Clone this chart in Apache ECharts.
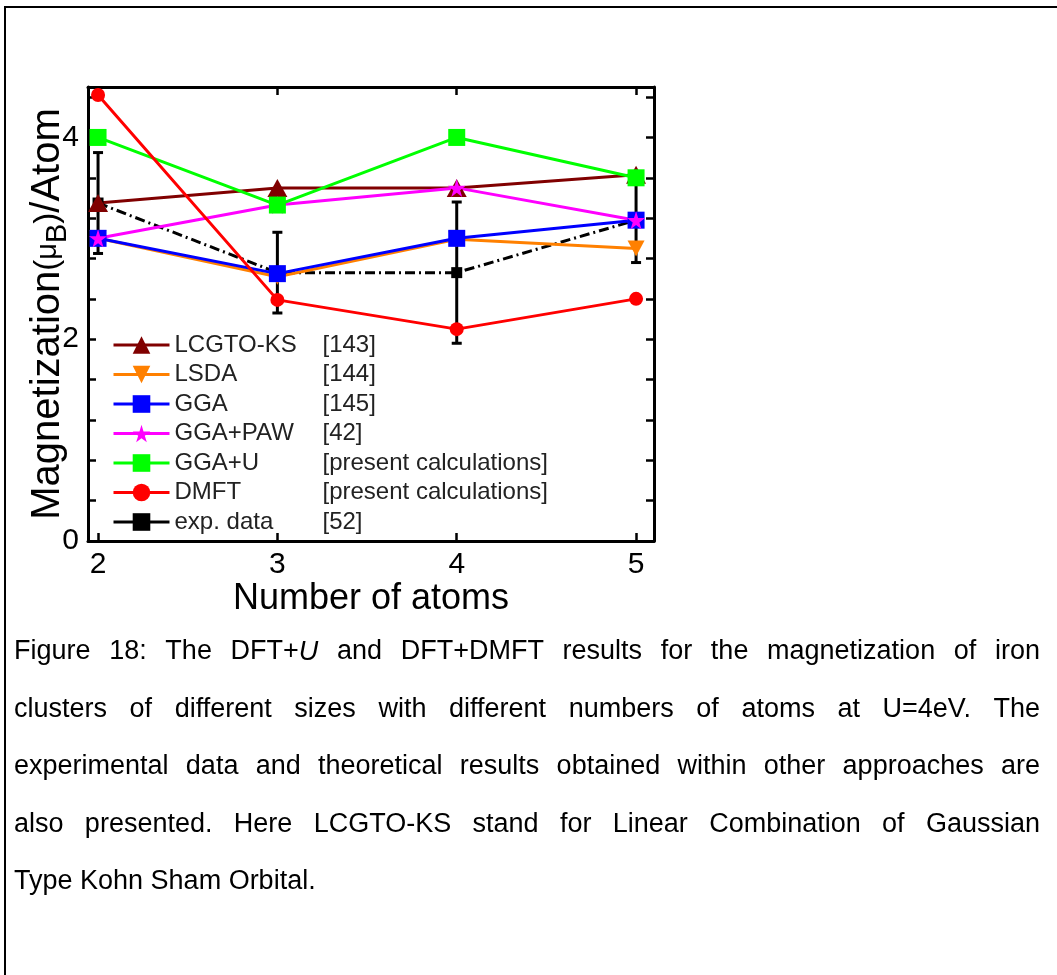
<!DOCTYPE html>
<html>
<head>
<meta charset="utf-8">
<script src="https://cdn.jsdelivr.net/npm/echarts@6/dist/echarts.min.js"></script>
<style>
  html, body { margin: 0; padding: 0; background: #fff; }
  #chart { width: 1057px; height: 975px; }
</style>
</head>
<body>
<div id="chart"></div>
<script>
// Cluster sizes (number of Fe atoms)
const atoms = [2, 3, 4, 5];

// Magnetic moment per atom (μB) for each method
const lcgtoKs = [3.35, 3.50, 3.50, 3.63];
const lsda    = [3.00, 2.62, 2.99, 2.90];
const gga     = [3.00, 2.65, 3.00, 3.18];
const ggaPaw  = [3.00, 3.33, 3.50, 3.18];
const ggaU    = [4.00, 3.33, 4.00, 3.60];
const dmft    = [4.42, 2.39, 2.10, 2.40];
const expVal  = [3.35, 2.66, 2.66, 3.18];
const expErr  = [0.50, 0.40, 0.70, 0.42];

// Legend entries: method name and reference
const methodNames = ['LCGTO-KS', 'LSDA', 'GGA', 'GGA+PAW', 'GGA+U', 'DMFT', 'exp. data'];
const methodRefs  = ['[143]', '[144]', '[145]', '[42]', '[present calculations]', '[present calculations]', '[52]'];

// Labelled y values
const yLabelled = [0, 2, 4];

// Caption lines; *x* marks italic
const captionLines = [
  'Figure 18: The DFT+*U* and DFT+DMFT results for the magnetization of iron',
  'clusters of different sizes with different numbers of atoms at U=4eV. The',
  'experimental data and theoretical results obtained within other approaches are',
  'also presented. Here LCGTO-KS stand for Linear Combination of Gaussian',
  'Type Kohn Sham Orbital.'
];

const FONT = 'Liberation Sans';
const STAR = 'path://M50,0 L61,35 L98,35 L68,57 L79,91 L50,70 L21,91 L32,57 L2,35 L39,35 Z';
const DOWN_TRI = 'path://M0,0 L100,0 L50,100 Z';

function lineSeries(name, values, color, symbol, size, extra) {
  return Object.assign({
    type: 'line',
    name: name,
    data: atoms.map((x, i) => [x, values[i]]),
    symbol: symbol,
    symbolSize: size,
    lineStyle: { color: color, width: 3 },
    itemStyle: { color: color },
    emphasis: { disabled: true },
    z: 3
  }, extra || {});
}

// ---- caption typesetting (justified lines) ----
const CAP_SIZE = 27;
const CAP_LEFT = 14, CAP_RIGHT = 1040;
const CAP_Y = [652, 710, 767, 825, 882];
const mctx = document.createElement('canvas').getContext('2d');
function measure(t, italic) {
  mctx.font = (italic ? 'italic ' : '') + CAP_SIZE + "px '" + FONT + "'";
  return mctx.measureText(t).width;
}
function parts(word) {
  const out = [];
  word.split(/(\*[^*]+\*)/).forEach(s => {
    if (!s) return;
    if (s[0] === '*') out.push({ t: s.slice(1, -1), it: true });
    else out.push({ t: s, it: false });
  });
  return out.map(p => Object.assign(p, { w: measure(p.t, p.it) }));
}
const captionEls = [];
captionLines.forEach((line, li) => {
  const words = line.split(' ').map(parts);
  const widths = words.map(ps => ps.reduce((a, p) => a + p.w, 0));
  const total = widths.reduce((a, b) => a + b, 0);
  const justify = li < captionLines.length - 1;
  const gap = justify ? (CAP_RIGHT - CAP_LEFT - total) / (words.length - 1) : measure(' ', false);
  let x = CAP_LEFT;
  words.forEach(ps => {
    ps.forEach(p => {
      captionEls.push({
        type: 'text', x: x, y: CAP_Y[li], silent: true,
        style: {
          text: p.t, fill: '#000',
          font: (p.it ? 'italic ' : '') + CAP_SIZE + "px '" + FONT + "'",
          verticalAlign: 'middle', align: 'left'
        }
      });
      x += p.w;
    });
    x += gap;
  });
});

// y-axis title with the μB unit
const yTitle = {
  type: 'text', x: 48, y: 314, rotation: Math.PI / 2, silent: true,
  style: {
    text: '{a|Magnetization}{p|(}{m|μ}{s|B}{p|)}{a|/Atom}',
    align: 'center', verticalAlign: 'middle', fill: '#000',
    rich: {
      a: { fontSize: 40, fontFamily: FONT, fill: '#000', lineHeight: 48, verticalAlign: 'middle' },
      p: { fontSize: 33, fontFamily: FONT, fill: '#000', lineHeight: 48, verticalAlign: 'middle' },
      m: { fontSize: 29, fontFamily: FONT, fill: '#000', lineHeight: 48, verticalAlign: 'middle' },
      s: { fontSize: 29, fontFamily: FONT, fill: '#000', lineHeight: 48, verticalAlign: 'bottom' }
    }
  }
};

const chart = echarts.init(document.getElementById('chart'), null, { renderer: 'canvas' });

const axisLine = { show: true, onZero: false, lineStyle: { color: '#000', width: 3 } };
const tickStyle = { color: '#000', width: 2.5 };
const X_MIN = 1.944, X_MAX = 5.1;

chart.setOption({
  animation: false,
  backgroundColor: '#fff',
  textStyle: { fontFamily: FONT },
  grid: { left: 88, top: 87, width: 566, height: 454, containLabel: false },
  xAxis: [
    {
      type: 'value', position: 'bottom', min: X_MIN, max: X_MAX,
      axisLine: axisLine,
      axisTick: { show: true, inside: true, length: 8, lineStyle: tickStyle, customValues: atoms },
      axisLabel: { show: true, customValues: atoms, fontSize: 30, color: '#000', margin: 9, fontFamily: FONT },
      splitLine: { show: false },
      name: 'Number of atoms', nameLocation: 'middle', nameGap: 28,
      nameTextStyle: { fontSize: 36, color: '#000', fontFamily: FONT }
    },
    {
      type: 'value', position: 'top', min: X_MIN, max: X_MAX,
      axisLine: axisLine,
      axisTick: { show: true, inside: true, length: 8, lineStyle: tickStyle, customValues: atoms },
      axisLabel: { show: false },
      splitLine: { show: false }
    }
  ],
  yAxis: [
    {
      type: 'value', position: 'left', min: 0, max: 4.5, interval: 0.4,
      axisLine: axisLine,
      axisTick: { show: true, inside: true, length: 8, lineStyle: tickStyle },
      axisLabel: {
        show: true, fontSize: 30, color: '#000', margin: 9, fontFamily: FONT,
        formatter: v => {
          const hit = yLabelled.find(t => Math.abs(t - v) < 1e-6);
          return hit === undefined ? '' : String(hit);
        }
      },
      splitLine: { show: false }
    },
    {
      type: 'value', position: 'right', min: 0, max: 4.5, interval: 0.4,
      axisLine: axisLine,
      axisTick: { show: true, inside: true, length: 8, lineStyle: tickStyle },
      axisLabel: { show: false },
      splitLine: { show: false }
    }
  ],
  legend: {
    orient: 'vertical', left: 112, top: 333, padding: 0,
    itemWidth: 56, itemHeight: 22, itemGap: 5.5,
    lineStyle: { width: 3 },
    data: methodNames.map(n => n === 'exp. data'
      ? { name: n, lineStyle: { type: 'solid', width: 3 } }
      : { name: n }),
    formatter: name => '{n|' + name + '}{r|' + methodRefs[methodNames.indexOf(name)] + '}',
    textStyle: {
      fontSize: 24, color: '#222', fontFamily: FONT, lineHeight: 22,
      rich: {
        n: { width: 148, fontSize: 24, color: '#222', fontFamily: FONT, lineHeight: 22 },
        r: { fontSize: 24, color: '#222', fontFamily: FONT, lineHeight: 22 }
      }
    },
    selectedMode: false
  },
  graphic: {
    elements: [
      {
        type: 'rect', silent: true,
        shape: { x: 5, y: 7, width: 1200, height: 1200 },
        style: { fill: 'none', stroke: '#000', lineWidth: 2 }
      },
      yTitle
    ].concat(captionEls)
  },
  series: [
    {
      type: 'custom', name: 'exp-errorbars', z: 2,
      data: atoms.map((x, i) => [x, expVal[i], expErr[i]]),
      encode: { x: 0, y: 1 },
      renderItem: (params, api) => {
        const x = api.value(0), y = api.value(1), e = api.value(2);
        const top = api.coord([x, y + e]);
        const bot = api.coord([x, y - e]);
        const hw = 5;
        const st = { stroke: '#000', lineWidth: 3 };
        return {
          type: 'group',
          children: [
            { type: 'line', shape: { x1: top[0], y1: top[1], x2: bot[0], y2: bot[1] }, style: st },
            { type: 'line', shape: { x1: top[0] - hw, y1: top[1], x2: top[0] + hw, y2: top[1] }, style: st },
            { type: 'line', shape: { x1: bot[0] - hw, y1: bot[1], x2: bot[0] + hw, y2: bot[1] }, style: st }
          ]
        };
      }
    },
    lineSeries('exp. data', expVal, '#000', 'rect', 11, {
      lineStyle: { color: '#000', width: 3, type: [10, 4, 2, 4] }
    }),
    lineSeries('LCGTO-KS', lcgtoKs, '#800000', 'triangle', [20, 18]),
    lineSeries('LSDA', lsda, '#FF8000', DOWN_TRI, [17, 16]),
    lineSeries('GGA', gga, '#0000FF', 'rect', 17),
    lineSeries('GGA+PAW', ggaPaw, '#FF00FF', STAR, 18),
    lineSeries('GGA+U', ggaU, '#00FF00', 'rect', 17),
    lineSeries('DMFT', dmft, '#FF0000', 'circle', 14)
  ]
});
</script>
</body>
</html>
